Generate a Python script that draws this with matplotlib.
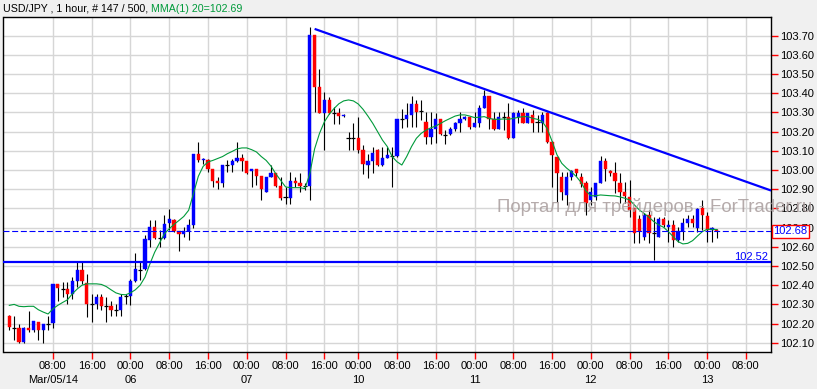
import matplotlib
matplotlib.use('Agg')
import matplotlib.pyplot as plt
import numpy as np

plt.rcParams['font.family'] = ['Liberation Sans', 'DejaVu Sans']

# ---------------- data (USD/JPY 1 hour, bar 0 = Mar 4 23:00 GMT) ----------------
opens = [102.242, 102.180, 102.178, 102.103, 102.178, 102.164, 102.208, 102.164, 102.199, 102.202,
         102.404, 102.381, 102.381, 102.355, 102.420, 102.480, 102.413, 102.300, 102.300, 102.340,
         102.290, 102.290, 102.272, 102.272, 102.343, 102.343, 102.420, 102.480, 102.482, 102.637,
         102.703, 102.645, 102.645, 102.724, 102.741, 102.680, 102.668, 102.682, 102.714, 103.085,
         103.050, 103.052, 103.005, 102.943, 102.930, 103.026, 103.028, 103.047, 103.062, 103.047,
         102.995, 103.007, 102.967, 102.885, 102.963, 102.986, 102.917, 102.856, 102.856, 102.943,
         102.934, 102.917, 102.917, 103.702, 103.433, 103.299, 103.363, 103.297, 103.297, 103.280,
         103.167, 103.167, 103.167, 103.102, 103.026, 103.047, 103.104, 103.026, 103.064, 103.073,
         103.073, 103.266, 103.264, 103.287, 103.344, 103.304, 103.250, 103.170, 103.212, 103.264,
         103.182, 103.186, 103.212, 103.247, 103.264, 103.278, 103.226, 103.247, 103.321, 103.386,
         103.264, 103.212, 103.275, 103.278, 103.165, 103.278, 103.295, 103.247, 103.287, 103.247,
         103.247, 103.297, 103.148, 103.070, 102.966, 102.870, 102.966, 103.004, 102.966, 102.931,
         102.844, 102.861, 102.931, 103.047, 102.997, 102.986, 102.931, 102.887, 102.861, 102.800,
         102.743, 102.649, 102.766, 102.670, 102.649, 102.743, 102.705, 102.714, 102.635, 102.684,
         102.722, 102.743, 102.696, 102.800, 102.760, 102.688, 102.688]
highs = [102.245, 102.242, 102.199, 102.180, 102.263, 102.211, 102.208, 102.199, 102.242, 102.404,
         102.404, 102.416, 102.416, 102.442, 102.520, 102.520, 102.460, 102.355, 102.355, 102.355,
         102.338, 102.320, 102.303, 102.355, 102.355, 102.433, 102.570, 102.520, 102.664, 102.741,
         102.741, 102.685, 102.764, 102.795, 102.745, 102.680, 102.705, 102.743, 103.085, 103.146,
         103.060, 103.059, 103.007, 102.963, 103.026, 103.050, 103.059, 103.146, 103.085, 103.047,
         103.007, 103.007, 102.967, 102.963, 103.024, 102.986, 102.963, 102.911, 102.990, 102.963,
         102.986, 102.934, 103.745, 103.702, 103.528, 103.406, 103.380, 103.328, 103.325, 103.290,
         103.200, 103.245, 103.276, 103.128, 103.085, 103.120, 103.110, 103.120, 103.120, 103.120,
         103.264, 103.320, 103.347, 103.386, 103.365, 103.365, 103.300, 103.300, 103.295, 103.264,
         103.210, 103.226, 103.252, 103.300, 103.282, 103.278, 103.300, 103.339, 103.417, 103.386,
         103.300, 103.300, 103.300, 103.347, 103.300, 103.313, 103.321, 103.295, 103.313, 103.287,
         103.300, 103.300, 103.150, 103.070, 102.990, 102.990, 103.000, 103.004, 102.986, 102.945,
         102.913, 102.934, 103.073, 103.060, 103.000, 103.040, 102.983, 102.940, 102.950, 102.800,
         102.766, 102.775, 102.792, 102.757, 102.757, 102.757, 102.740, 102.740, 102.705, 102.748,
         102.766, 102.766, 102.800, 102.844, 102.783, 102.705, 102.691]
lows = [102.164, 102.116, 102.100, 102.100, 102.156, 102.156, 102.116, 102.100, 102.164, 102.178,
        102.320, 102.338, 102.303, 102.329, 102.390, 102.407, 102.234, 102.208, 102.277, 102.270,
        102.208, 102.242, 102.237, 102.242, 102.300, 102.295, 102.416, 102.425, 102.480, 102.598,
        102.642, 102.598, 102.642, 102.687, 102.677, 102.580, 102.650, 102.636, 102.700, 103.042,
        103.033, 102.990, 102.912, 102.903, 102.911, 102.990, 102.990, 103.042, 102.995, 102.981,
        102.912, 102.920, 102.842, 102.885, 102.963, 102.911, 102.842, 102.821, 102.825, 102.911,
        102.885, 102.894, 102.842, 103.302, 103.299, 103.102, 103.294, 103.241, 103.241, 103.275,
        103.104, 103.102, 103.090, 102.980, 102.960, 102.982, 103.020, 103.020, 103.060, 102.913,
        103.070, 103.220, 103.226, 103.224, 103.226, 103.260, 103.135, 103.135, 103.140, 103.182,
        103.135, 103.180, 103.205, 103.200, 103.260, 103.212, 103.226, 103.226, 103.321, 103.212,
        103.210, 103.212, 103.210, 103.160, 103.165, 103.243, 103.247, 103.243, 103.200, 103.200,
        103.200, 103.140, 102.913, 102.835, 102.844, 102.818, 102.950, 102.970, 102.913, 102.766,
        102.818, 102.844, 102.931, 102.945, 102.970, 102.880, 102.826, 102.826, 102.757, 102.618,
        102.618, 102.635, 102.618, 102.531, 102.649, 102.705, 102.627, 102.601, 102.627, 102.635,
        102.705, 102.705, 102.679, 102.688, 102.627, 102.627, 102.644]
closes = [102.182, 102.178, 102.103, 102.178, 102.164, 102.211, 102.164, 102.199, 102.200, 102.404,
          102.385, 102.382, 102.355, 102.420, 102.480, 102.420, 102.300, 102.301, 102.340, 102.290,
          102.291, 102.272, 102.273, 102.340, 102.344, 102.420, 102.482, 102.481, 102.642, 102.703,
          102.645, 102.646, 102.720, 102.743, 102.680, 102.668, 102.682, 102.714, 103.085, 103.050,
          103.055, 103.005, 102.943, 102.930, 103.026, 103.025, 103.047, 103.062, 103.047, 102.986,
          103.007, 102.967, 102.903, 102.963, 102.986, 102.917, 102.856, 102.857, 102.943, 102.934,
          102.917, 102.918, 103.702, 103.433, 103.299, 103.363, 103.299, 103.298, 103.280, 103.288,
          103.168, 103.168, 103.102, 103.030, 103.047, 103.087, 103.026, 103.064, 103.078, 103.074,
          103.264, 103.267, 103.287, 103.344, 103.304, 103.305, 103.170, 103.212, 103.264, 103.186,
          103.183, 103.212, 103.247, 103.264, 103.278, 103.226, 103.247, 103.321, 103.386, 103.264,
          103.212, 103.278, 103.274, 103.165, 103.295, 103.295, 103.247, 103.295, 103.247, 103.248,
          103.287, 103.148, 103.078, 102.986, 102.887, 102.966, 102.997, 102.986, 102.927, 102.826,
          102.884, 102.934, 103.047, 103.004, 102.986, 102.945, 102.887, 102.866, 102.792, 102.670,
          102.684, 102.766, 102.670, 102.671, 102.743, 102.714, 102.714, 102.635, 102.684, 102.722,
          102.743, 102.722, 102.795, 102.766, 102.688, 102.696, 102.680]

# MMA(1) 20 indicator line at every bar
mma = [102.295, 102.300, 102.290, 102.288, 102.290, 102.290, 102.272, 102.260, 102.250, 102.277,
       102.295, 102.310, 102.324, 102.355, 102.380, 102.400, 102.407, 102.407, 102.407, 102.404,
       102.393, 102.376, 102.360, 102.352, 102.350, 102.360, 102.376, 102.400, 102.442, 102.510,
       102.572, 102.620, 102.668, 102.694, 102.717, 102.737, 102.758, 102.790, 102.877, 102.967,
       103.019, 103.042, 103.050, 103.060, 103.070, 103.085, 103.097, 103.110, 103.115, 103.115,
       103.106, 103.094, 103.070, 103.050, 103.020, 102.980, 102.946, 102.912, 102.908, 102.908,
       102.908, 102.903, 102.980, 103.110, 103.190, 103.250, 103.290, 103.320, 103.345, 103.360,
       103.365, 103.360, 103.344, 103.316, 103.281, 103.243, 103.200, 103.156, 103.122, 103.070,
       103.043, 103.026, 103.070, 103.122, 103.165, 103.191, 103.208, 103.220, 103.229, 103.243,
       103.257, 103.269, 103.281, 103.287, 103.287, 103.281, 103.273, 103.275, 103.278, 103.269,
       103.264, 103.264, 103.266, 103.264, 103.269, 103.274, 103.278, 103.278, 103.269, 103.264,
       103.252, 103.215, 103.150, 103.080, 103.035, 103.010, 102.990, 102.966, 102.935, 102.890,
       102.866, 102.866, 102.870, 102.868, 102.866, 102.865, 102.860, 102.853, 102.844, 102.818,
       102.792, 102.774, 102.754, 102.731, 102.714, 102.702, 102.679, 102.653, 102.627, 102.615,
       102.618, 102.632, 102.656, 102.679, 102.691, 102.691, 102.690]

tick_idx = [9, 17, 25, 33, 41, 49, 57, 65, 72, 80, 88, 96, 104, 112, 120, 128, 136, 144, 152]
tick_time = ['08:00', '16:00', '00:00', '08:00', '16:00', '00:00', '08:00', '16:00', '00:00', '08:00',
             '16:00', '00:00', '08:00', '16:00', '00:00', '08:00', '16:00', '00:00', '08:00']
tick_date = ['Mar/05/14', '', '06', '', '', '07', '', '', '10', '', '', '11', '', '', '12', '', '', '13', '']
price_ticks = [102.10, 102.20, 102.30, 102.40, 102.50, 102.60, 102.70, 102.80, 102.90,
               103.00, 103.10, 103.20, 103.30, 103.40, 103.50, 103.60, 103.70]

support_level = 102.52
last_price = 102.68
trend_x = [63.0, 157.2]
trend_y = [103.735, 102.893]

title_main = 'USD/JPY , 1 hour, # 147 / 500,'
title_ind = 'MMA(1) 20=102.69'
watermark = 'Портал для трейдеров - ForTrader.ru'

# ---------------- figure ----------------
W, H = 817, 389
fig = plt.figure(figsize=(W / 100, H / 100), dpi=100, facecolor='#f0f0f0')
left_px, right_px, top_px, bot_px = 3.5, 771, 17, 352
ax = fig.add_axes([left_px / W, 1 - bot_px / H, (right_px - left_px) / W, (bot_px - top_px) / H],
                  facecolor='white')

o = np.array(opens); h = np.array(highs); l = np.array(lows); c = np.array(closes)
x = np.arange(len(c))

ax.vlines(x, l, h, color='black', lw=0.8, zorder=3)
doji = np.abs(c - o) < 0.004
up = (c > o) & ~doji
dn = (c < o) & ~doji
bw = 0.66
ax.bar(x[up], (c - o)[up], bottom=o[up], width=bw, color='#0000ff', edgecolor='#0000ff', lw=0.3, zorder=4)
ax.bar(x[dn], (o - c)[dn], bottom=c[dn], width=bw, color='#ff0000', edgecolor='#ff0000', lw=0.3, zorder=4)
ax.hlines(c[doji], x[doji] - 0.42, x[doji] + 0.42, color='black', lw=0.9, zorder=4)

ax.plot(x, mma, color='#009a3a', lw=0.8, zorder=5)

ax.axhline(support_level, color='#0000ff', lw=1.6, zorder=6)
ax.axhline(last_price, color='#0000ff', lw=0.8, dashes=(5.4, 2.4), zorder=6)
ax.plot(trend_x, trend_y, color='#0000ff', lw=1.6, zorder=6, solid_capstyle='butt')

ax.set_xlim(-1.2, 157.18)
ax.set_ylim(102.052, 103.797)

ax.set_xticks(tick_idx)
ax.set_xticklabels([t + ('\n' + d if d else '') for t, d in zip(tick_time, tick_date)],
                   fontsize=8, linespacing=1.45)
ax.yaxis.tick_right()
ax.set_yticks(price_ticks)
ax.set_yticklabels(['%.2f' % p for p in price_ticks], fontsize=8)
ax.tick_params(axis='x', length=5, width=1, color='#ff0000', pad=1.5, direction='out')
ax.tick_params(axis='y', length=5, width=1, color='#ff0000', pad=1.5, direction='out')
ax.grid(True, color='#d6d6d6', lw=1, zorder=0)
ax.set_axisbelow(True)
for s in ax.spines.values():
    s.set_color('black')
    s.set_linewidth(1)

ax.text(0.996, support_level, '102.52', transform=ax.get_yaxis_transform(), ha='right', va='bottom',
        color='#0000ff', fontsize=8, zorder=7)
ax.text(1.003, last_price, '102.68', transform=ax.get_yaxis_transform(), ha='left', va='center',
        color='#0000ff', fontsize=8, zorder=20, clip_on=False,
        bbox=dict(boxstyle='square,pad=0.15', fc='white', ec='#ff0000', lw=1))

t1 = fig.text(3 / W, 1 - 8.5 / H, title_main, ha='left', va='center', fontsize=7.7, color='black')
fig.canvas.draw()
bb = t1.get_window_extent()
fig.text((bb.x1 + 3) / W, 1 - 8.5 / H, title_ind, ha='left', va='center', fontsize=7.7, color='#009a3a')

fig.text(497 / W, 1 - 207 / H, watermark, ha='left', va='center', fontsize=13.4,
         color='#a89c9c', alpha=0.85, zorder=30)

fig.savefig('out.png', dpi=100, facecolor=fig.get_facecolor())
